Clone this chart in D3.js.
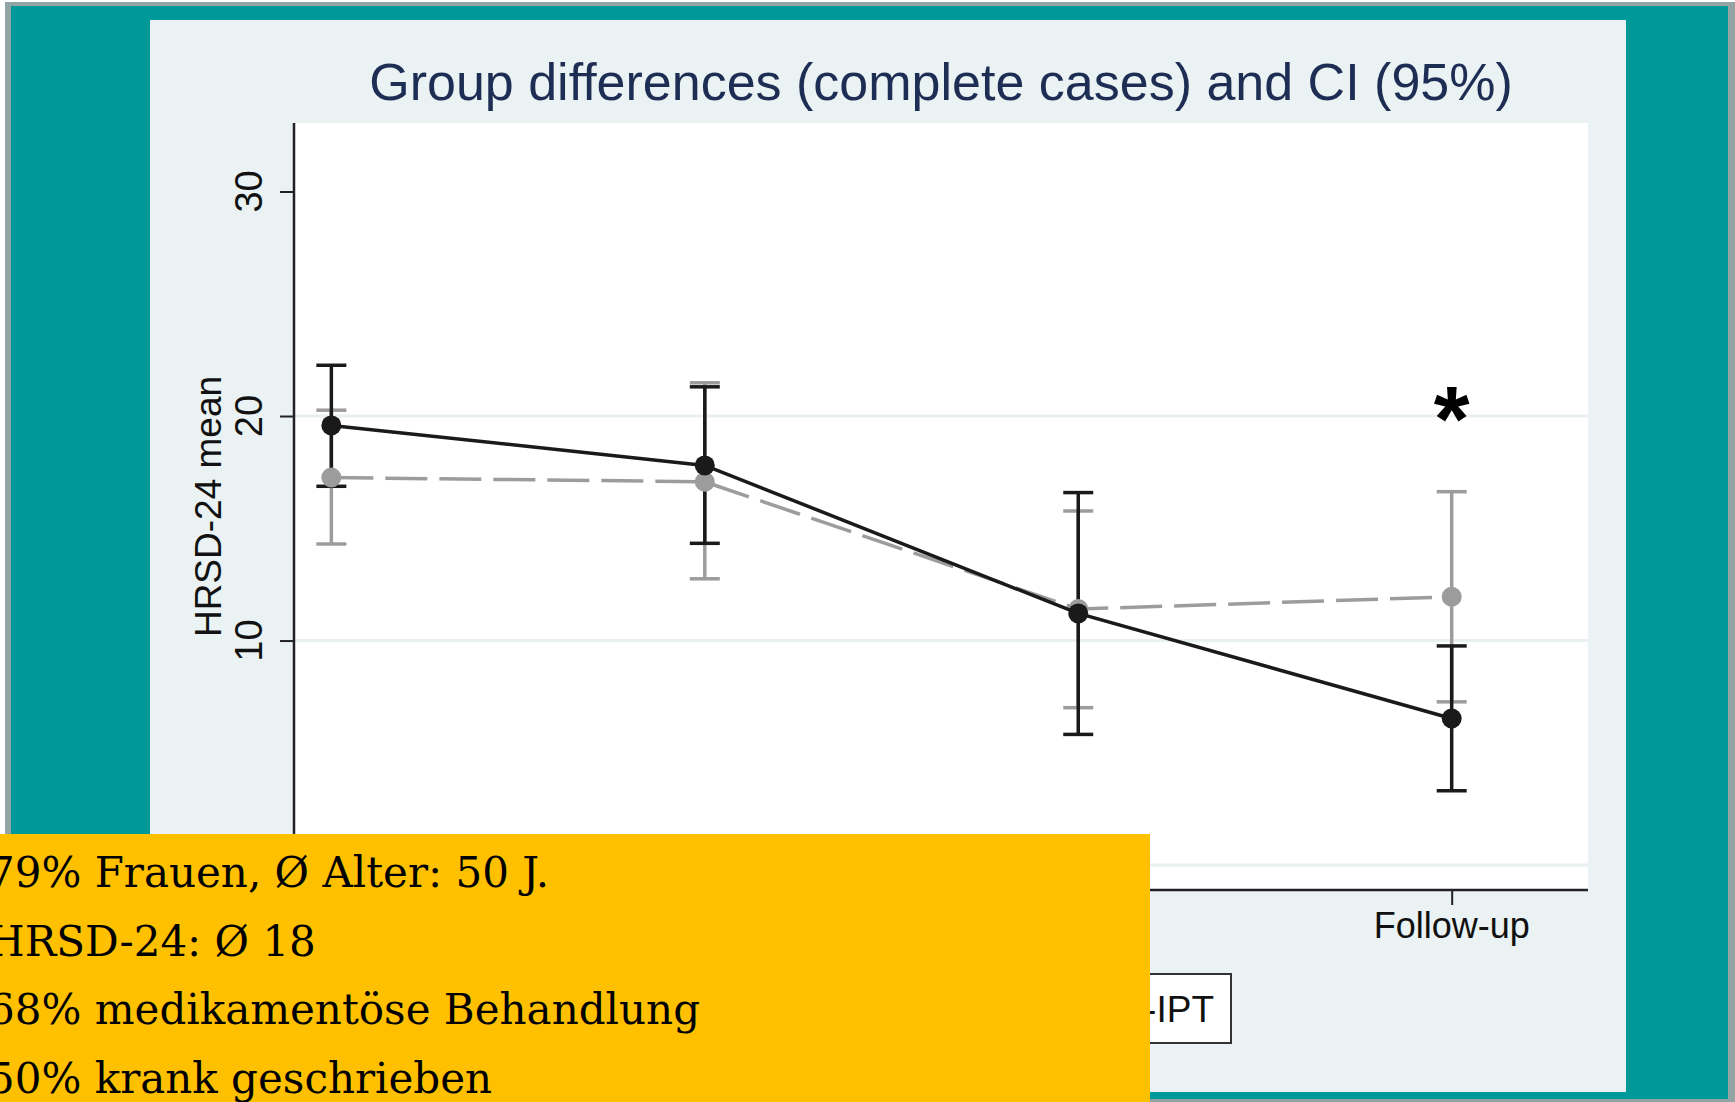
<!DOCTYPE html>
<html>
<head>
<meta charset="utf-8">
<script src="https://cdn.jsdelivr.net/npm/d3@7"></script>
<style>
  html, body { margin: 0; padding: 0; background: #ffffff; }
  svg { display: block; }
</style>
</head>
<body>
<svg id="main_svg" width="1735" height="1102"></svg>
<script>
// data
const categories = ['Baseline', 'Zwischen', 'Post', 'Follow-up'];

// group 1 (black, solid)
const ipt_mean = [19.58, 17.80, 11.21, 6.53];
const ipt_lower = [16.87, 14.33, 5.82, 3.31];
const ipt_upper = [22.26, 21.30, 16.59, 9.76];

// group 2 (grey, dashed)
const tau_mean = [17.26, 17.07, 11.40, 11.95];
const tau_lower = [14.30, 12.75, 7.01, 7.27];
const tau_upper = [20.26, 21.48, 15.77, 16.63];

const y_ticks = [0, 10, 20, 30];
const y_grid = [0, 10, 20];
const legend_labels = ['TAU', 'Gruppen-IPT'];
const signif = [{ cat: 3, value: 20.5, label: '*' }];

const info_lines = [
  '79% Frauen, Ø Alter: 50 J.',
  'HRSD-24: Ø 18',
  '68% medikamentöse Behandlung',
  '50% krank geschrieben'
];

const svg = d3.select('#main_svg');

// frame: grey border, teal slide background, light graph region
svg.append('rect')
  .attr('x', 5).attr('y', 2)
  .attr('width', 1730).attr('height', 1100)
  .attr('fill', '#93a4a5');

svg.append('rect')
  .attr('x', 11).attr('y', 6)
  .attr('width', 1717).attr('height', 1093)
  .attr('fill', '#009999');

svg.append('rect')
  .attr('x', 150).attr('y', 20)
  .attr('width', 1476).attr('height', 1072)
  .attr('fill', '#eaf2f3');

// plot region
const plot = { left: 294, right: 1588, top: 123, bottom: 890 };

svg.append('rect')
  .attr('x', plot.left).attr('y', plot.top)
  .attr('width', plot.right - plot.left)
  .attr('height', plot.bottom - plot.top)
  .attr('fill', '#ffffff');

const x = d3.scaleLinear()
  .domain([-0.1, 3.365])
  .range([plot.left, plot.right]);

const y = d3.scaleLinear()
  .domain([-1.11, 33.05])
  .range([plot.bottom, plot.top]);

// grid lines
svg.append('g')
  .selectAll('line')
  .data(y_grid)
  .join('line')
  .attr('x1', plot.left).attr('x2', plot.right)
  .attr('y1', d => y(d)).attr('y2', d => y(d))
  .attr('stroke', '#e8f0f2')
  .attr('stroke-width', 3);

// title
svg.append('text')
  .text('Group differences (complete cases) and CI (95%)')
  .attr('x', (plot.left + plot.right) / 2)
  .attr('y', 100)
  .attr('text-anchor', 'middle')
  .style('font-family', 'Liberation Sans, Arial, sans-serif')
  .style('font-size', '52px')
  .attr('fill', '#1e2d53');

// y axis
const y_axis = svg.append('g')
  .attr('transform', 'translate(' + plot.left + ',0)')
  .call(d3.axisLeft(y).tickValues(y_ticks).tickSize(14).tickFormat(''));

y_axis.select('.domain')
  .attr('d', 'M0,' + plot.top + 'V' + plot.bottom)
  .attr('stroke', '#222')
  .attr('stroke-width', 2.5);
y_axis.selectAll('.tick line')
  .attr('stroke', '#222')
  .attr('stroke-width', 2);

// rotated tick labels
svg.append('g')
  .selectAll('text')
  .data(y_ticks)
  .join('text')
  .text(d => d)
  .attr('text-anchor', 'middle')
  .attr('transform', d => 'translate(262,' + y(d) + ') rotate(-90)')
  .style('font-family', 'Liberation Sans, Arial, sans-serif')
  .style('font-size', '38px')
  .attr('fill', '#111');

svg.append('text')
  .text('HRSD-24 mean')
  .attr('text-anchor', 'middle')
  .attr('transform', 'translate(221,' + (plot.top + plot.bottom) / 2 + ') rotate(-90)')
  .style('font-family', 'Liberation Sans, Arial, sans-serif')
  .style('font-size', '37px')
  .attr('fill', '#111');

// x axis
const x_axis = svg.append('g')
  .attr('transform', 'translate(0,' + plot.bottom + ')')
  .call(d3.axisBottom(x).tickValues(d3.range(categories.length)).tickSize(15).tickFormat(''));

x_axis.select('.domain')
  .attr('d', 'M' + plot.left + ',0H' + plot.right)
  .attr('stroke', '#222')
  .attr('stroke-width', 2.5);
x_axis.selectAll('.tick line')
  .attr('stroke', '#222')
  .attr('stroke-width', 2);

svg.append('g')
  .selectAll('text')
  .data(categories)
  .join('text')
  .text(d => d)
  .attr('x', (d, i) => x(i))
  .attr('y', 938)
  .attr('text-anchor', 'middle')
  .style('font-family', 'Liberation Sans, Arial, sans-serif')
  .style('font-size', '36px')
  .attr('fill', '#111');

// series
const series = [
  { mean: tau_mean, lower: tau_lower, upper: tau_upper, color: '#9c9c9c', dash: '42,12' },
  { mean: ipt_mean, lower: ipt_lower, upper: ipt_upper, color: '#1a1a1a', dash: null }
];

const cap = 15;
const line = d3.line()
  .x((d, i) => x(i))
  .y(d => d);

// confidence intervals first, grey below black
series.forEach(function(s) {
  const g = svg.append('g')
    .attr('stroke', s.color)
    .attr('stroke-width', 3.5);
  g.selectAll('.ci')
    .data(s.mean)
    .join('line')
    .attr('x1', (d, i) => x(i)).attr('x2', (d, i) => x(i))
    .attr('y1', (d, i) => y(s.lower[i])).attr('y2', (d, i) => y(s.upper[i]));
  g.selectAll('.cap_hi')
    .data(s.upper)
    .join('line')
    .attr('x1', (d, i) => x(i) - cap).attr('x2', (d, i) => x(i) + cap)
    .attr('y1', d => y(d)).attr('y2', d => y(d));
  g.selectAll('.cap_lo')
    .data(s.lower)
    .join('line')
    .attr('x1', (d, i) => x(i) - cap).attr('x2', (d, i) => x(i) + cap)
    .attr('y1', d => y(d)).attr('y2', d => y(d));
});

// mean lines and markers
series.forEach(function(s) {
  svg.append('path')
    .datum(s.mean.map(d => y(d)))
    .attr('d', line)
    .attr('fill', 'none')
    .attr('stroke', s.color)
    .attr('stroke-width', 3.5)
    .attr('stroke-dasharray', s.dash);

  svg.append('g')
    .selectAll('circle')
    .data(s.mean)
    .join('circle')
    .attr('cx', (d, i) => x(i))
    .attr('cy', d => y(d))
    .attr('r', 10)
    .attr('fill', s.color);
});

// significance star
svg.append('g')
  .selectAll('text')
  .data(signif)
  .join('text')
  .text(d => d.label)
  .attr('x', d => x(d.cat))
  .attr('y', d => y(d.value) + 46)
  .attr('text-anchor', 'middle')
  .style('font-family', 'Liberation Sans, Arial, sans-serif')
  .style('font-weight', 700)
  .style('font-size', '92px')
  .attr('fill', '#000');

// legend
const legend = svg.append('g');
legend.append('rect')
  .attr('x', 651).attr('y', 974)
  .attr('width', 580).attr('height', 69)
  .attr('fill', '#ffffff')
  .attr('stroke', '#333')
  .attr('stroke-width', 2);

const key_x = [670, 900];
series.forEach(function(s, i) {
  legend.append('line')
    .attr('x1', key_x[i]).attr('x2', key_x[i] + 85)
    .attr('y1', 1008).attr('y2', 1008)
    .attr('stroke', s.color)
    .attr('stroke-width', 3.5)
    .attr('stroke-dasharray', s.dash);
  legend.append('circle')
    .attr('cx', key_x[i] + 42).attr('cy', 1008)
    .attr('r', 10)
    .attr('fill', s.color);
});

legend.append('text')
  .text(legend_labels[0])
  .attr('x', 770).attr('y', 1022)
  .style('font-family', 'Liberation Sans, Arial, sans-serif')
  .style('font-size', '37px')
  .attr('fill', '#111');
legend.append('text')
  .text(legend_labels[1])
  .attr('x', 1214).attr('y', 1022)
  .attr('text-anchor', 'end')
  .style('font-family', 'Liberation Sans, Arial, sans-serif')
  .style('font-size', '37px')
  .attr('fill', '#111');

// yellow info box covering the lower left
svg.append('rect')
  .attr('x', 0).attr('y', 834)
  .attr('width', 1150).attr('height', 268)
  .attr('fill', '#ffc000');

svg.append('g')
  .selectAll('text')
  .data(info_lines)
  .join('text')
  .text(d => d)
  .attr('x', -12)
  .attr('y', (d, i) => 887 + i * 68.5)
  .style('font-family', 'DejaVu Serif, serif')
  .style('font-size', '42px')
  .attr('fill', '#000');
</script>
</body>
</html>
